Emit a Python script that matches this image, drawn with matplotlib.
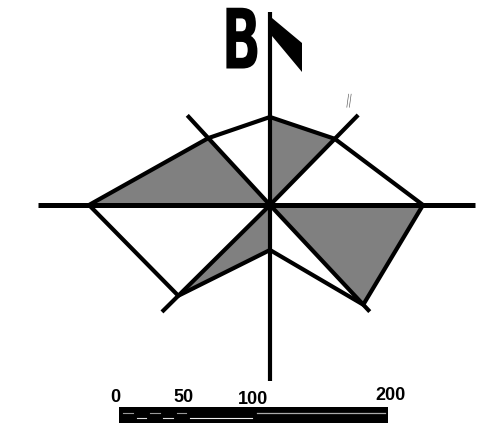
import numpy as np
import matplotlib
matplotlib.use('Agg')
import matplotlib.pyplot as plt
from matplotlib.patches import Polygon, Rectangle
from matplotlib.patheffects import AbstractPathEffect
from matplotlib.transforms import Affine2D

# rose diagram: direction of each axis (deg, ccw from east)
directions = ['E', 'NE', 'N', 'NW', 'W', 'SW', 'S', 'SE']
axis_angles = [0, 45.6, 90, 132.7, 180, 224.7, 270, 313.1]
# polygon radius along each axis (px)
vertex_radii = [153, 92.6, 88, 91, 181, 129, 45, 136.5]
# axis line length (px)
axis_lengths = [205, 126, 193, 122, 232, 152, 176, 146]
# sector from axis i to axis i+1 filled grey?
sector_fill = [False, True, False, True, False, True, False, True]

# scale bar
scale_values = [0, 50, 100, 200]
scale_label_dy = [0, 0, 3, -2]

cx, cy = 270, 205


def pt(a, r):
    a = np.radians(a)
    return cx + r * np.cos(a), cy - r * np.sin(a)


class Squeeze(AbstractPathEffect):
    """Narrow a text glyph horizontally (condensed look)."""
    def __init__(self, sx):
        super().__init__()
        self.sx = sx

    def draw_path(self, renderer, gc, tpath, affine, rgbFace=None):
        ext = tpath.get_extents()
        xm = (ext.x0 + ext.x1) / 2
        t = Affine2D().translate(-xm, 0).scale(self.sx, 1).translate(xm, 0)
        renderer.draw_path(gc, tpath, t + affine, rgbFace)


fig = plt.figure(figsize=(4.94, 4.37), dpi=100)
ax = fig.add_axes([0, 0, 1, 1])
ax.set_xlim(0, 494)
ax.set_ylim(437, 0)
ax.axis('off')

verts = [pt(a, r) for a, r in zip(axis_angles, vertex_radii)]
n = len(verts)
for i in range(n):
    if sector_fill[i]:
        ax.add_patch(Polygon([(cx, cy), verts[i], verts[(i + 1) % n]],
                             closed=True, facecolor='#808080', edgecolor='#808080',
                             linewidth=0.5, zorder=1))

ax.add_patch(Polygon(verts, closed=True, facecolor='none', edgecolor='black',
                     linewidth=3.0, joinstyle='miter', zorder=3))

for a, L in zip(axis_angles, axis_lengths):
    x1, y1 = pt(a, L)
    lw = 3.6 if a in (0, 180) else 3.0
    ax.plot([cx, x1], [cy, y1], color='black', linewidth=lw,
            solid_capstyle='butt', zorder=4)

# north flag
ax.add_patch(Polygon([(272, 18), (302, 43), (302, 72), (272, 36)],
                     closed=True, facecolor='black', edgecolor='none', zorder=5))

ax.text(241, 45, 'B', family='DejaVu Sans', fontweight='bold', fontsize=60,
        color='black', ha='center', va='center', zorder=5,
        path_effects=[Squeeze(0.62)])

ax.text(349, 101, '//', family='DejaVu Sans', fontsize=12, color='#555555',
        ha='center', va='center', zorder=5, path_effects=[Squeeze(0.45)])

# scale bar
ax.add_patch(Rectangle((119, 407), 269, 16, facecolor='black', edgecolor='none', zorder=5))
for x0, x1 in [(123, 133), (150, 160), (177, 186)]:
    ax.plot([x0, x1], [412.5, 412.5], color='#999999', linewidth=0.8, zorder=6)
for x0, x1 in [(137, 146), (163, 173)]:
    ax.plot([x0, x1], [418, 418], color='#dddddd', linewidth=0.8, zorder=6)
ax.plot([190, 252], [418, 418], color='#eeeeee', linewidth=0.8, zorder=6)
ax.plot([257, 385], [412.5, 412.5], color='#aaaaaa', linewidth=0.9, zorder=6)

for v, dy in zip(scale_values, scale_label_dy):
    ax.text(115 + v * 1.375, 397 + dy, str(v), family='Liberation Sans',
            fontweight='bold', fontsize=13, ha='center', va='center', zorder=6)

fig.savefig('out.png', dpi=100)
